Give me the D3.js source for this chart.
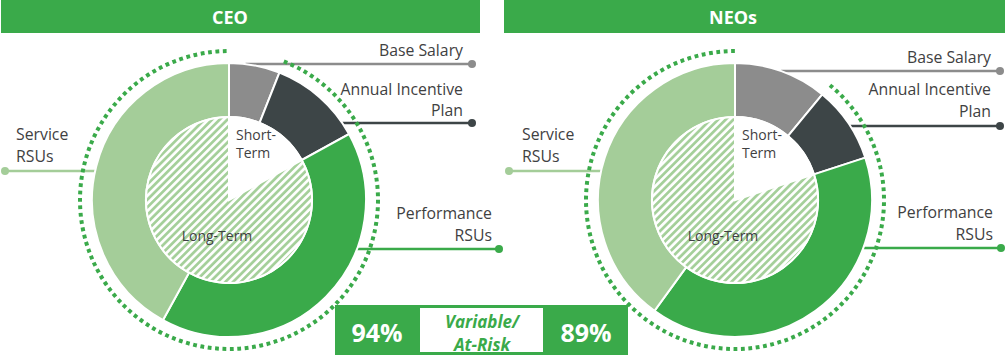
<!DOCTYPE html>
<html>
<head>
<meta charset="utf-8">
<script src="https://cdn.jsdelivr.net/npm/d3@7"></script>
<style>
  html, body { margin: 0; padding: 0; background: #fff; }
  svg { display: block; font-family: 'Open Sans', sans-serif; }
</style>
</head>
<body>
<svg id="chart"></svg>
<script>
const width = 1006
const height = 358

// data
const groups = ['CEO', 'NEOs']
const categories = ['Base Salary', 'Annual Incentive Plan', 'Performance RSUs', 'Service RSUs']
const ceoMix = [6, 11, 41, 42]
const neoMix = [11, 9, 40, 40]
const horizons = ['Short-Term', 'Long-Term']
const variablePct = [94, 89]

const green = '#3aaa4a'
const colors = ['#8c8c8c', '#3d4547', green, '#a4cd99']
const textColor = '#3f4142'

const rOuter = 137
const rInner = 83
const rDots = 149
const cy = 200

// layout for each panel (label wrapping and placement)
const panels = [
  {
    name: groups[0], mix: ceoMix, cx: 229, bar: [1, 480], titleX: 230,
    labels: [
      { lines: ['Base Salary'], x: 463, anchor: 'end', base: [56], lineY: 64, dotX: 472 },
      { lines: ['Annual Incentive', 'Plan'], x: 463, anchor: 'end', base: [95, 116], lineY: 123, dotX: 472 },
      { lines: ['Performance', 'RSUs'], x: 492, anchor: 'end', base: [219, 241], lineY: 249, dotX: 499 },
      { lines: ['Service', 'RSUs'], x: 16, anchor: 'start', base: [140, 162], lineY: 171, dotX: 5 }
    ]
  },
  {
    name: groups[1], mix: neoMix, cx: 735, bar: [504, 1005], titleX: 733,
    labels: [
      { lines: ['Base Salary'], x: 991, anchor: 'end', base: [63], lineY: 71, dotX: 1000 },
      { lines: ['Annual Incentive', 'Plan'], x: 991, anchor: 'end', base: [95, 117], lineY: 126, dotX: 1000 },
      { lines: ['Performance', 'RSUs'], x: 993, anchor: 'end', base: [218, 240], lineY: 248, dotX: 1001 },
      { lines: ['Service', 'RSUs'], x: 522, anchor: 'start', base: [140, 162], lineY: 171, dotX: 509 }
    ]
  }
]

const svg = d3.select('#chart')
    .attr('width', width)
    .attr('height', height)

// diagonal hatch for the long-term slice
svg.append('defs')
  .append('pattern')
    .attr('id', 'hatch')
    .attr('patternUnits', 'userSpaceOnUse')
    .attr('width', 5.4)
    .attr('height', 5.4)
    .attr('patternTransform', 'rotate(45)')
  .call(p => p.append('rect')
    .attr('width', 5.4).attr('height', 5.4).attr('fill', '#fff'))
  .call(p => p.append('line')
    .attr('x1', 1.4).attr('x2', 1.4).attr('y1', 0).attr('y2', 5.4)
    .attr('stroke', '#a4cf99').attr('stroke-width', 2.7))

const pie = d3.pie().sort(null).value(d => d)
const ringArc = d3.arc().innerRadius(rInner).outerRadius(rOuter)
const coreArc = d3.arc().innerRadius(0).outerRadius(rInner)

panels.forEach((p, pi) => {
  // header bar
  svg.append('rect')
    .attr('x', p.bar[0])
    .attr('y', 0)
    .attr('width', p.bar[1] - p.bar[0])
    .attr('height', 33)
    .attr('fill', green)
  svg.append('text')
    .attr('x', p.titleX)
    .attr('y', 24)
    .attr('text-anchor', 'middle')
    .attr('fill', '#fff')
    .style('font-size', '18px')
    .style('font-weight', 700)
    .text(p.name)

  const g = svg.append('g')

  // leader lines + labels
  p.labels.forEach((l, i) => {
    const dy = l.lineY - cy
    const half = Math.sqrt(rOuter * rOuter - dy * dy)
    const x0 = l.anchor === 'end' ? p.cx + half : p.cx - half
    g.append('line')
      .attr('x1', x0).attr('x2', l.dotX)
      .attr('y1', l.lineY).attr('y2', l.lineY)
      .attr('stroke', colors[i])
      .attr('stroke-width', 2.4)
    g.append('circle')
      .attr('cx', l.dotX).attr('cy', l.lineY)
      .attr('r', 4)
      .attr('fill', colors[i])
    l.lines.forEach((t, k) => {
      g.append('text')
        .attr('x', l.x)
        .attr('y', l.base[k])
        .attr('text-anchor', l.anchor)
        .attr('fill', textColor)
        .style('font-size', '15.8px')
        .text(t)
    })
  })

  const c = g.append('g').attr('transform', `translate(${p.cx}, ${cy})`)

  // outer ring: the four pay elements
  c.selectAll('path.ring')
    .data(pie(p.mix))
    .enter()
    .append('path')
      .attr('class', 'ring')
      .attr('d', ringArc)
      .attr('fill', (d, i) => colors[i])
      .attr('stroke', '#fff')
      .attr('stroke-width', 2)

  // inner pie: short-term vs long-term
  const shortTerm = p.mix[0] + p.mix[1]
  const core = [shortTerm, 100 - shortTerm]
  c.selectAll('path.core')
    .data(pie(core))
    .enter()
    .append('path')
      .attr('class', 'core')
      .attr('d', coreArc)
      .attr('fill', (d, i) => i === 0 ? '#fff' : 'url(#hatch)')
      .attr('stroke', '#fff')
      .attr('stroke-width', 2)

  // dotted arc around the variable / at-risk part (open arc only)
  const a0 = (p.mix[0] / 100) * 2 * Math.PI - Math.PI / 2
  const dots = d3.path()
  dots.moveTo(rDots * Math.cos(a0), rDots * Math.sin(a0))
  dots.arc(0, 0, rDots, a0, 1.5 * Math.PI)
  c.append('path')
    .attr('d', dots.toString())
    .attr('fill', 'none')
    .attr('stroke', green)
    .attr('stroke-width', 4)
    .attr('stroke-dasharray', '3.8 3.6')

  c.append('text')
    .attr('x', 7)
    .attr('y', -60)
    .attr('fill', textColor)
    .style('font-size', '14px')
    .text(horizons[0].split('-')[0] + '-')
  c.append('text')
    .attr('x', 7)
    .attr('y', -42)
    .attr('fill', textColor)
    .style('font-size', '14px')
    .text(horizons[0].split('-')[1])
  c.append('text')
    .attr('x', -12)
    .attr('y', 41)
    .attr('text-anchor', 'middle')
    .attr('fill', textColor)
    .style('font-size', '14px')
    .text(horizons[1])
})

// variable / at-risk box
const box = svg.append('g')
box.append('rect')
  .attr('x', 336.5).attr('y', 306.5)
  .attr('width', 290).attr('height', 47)
  .attr('fill', '#fff')
  .attr('stroke', green)
  .attr('stroke-width', 3)
box.append('rect')
  .attr('x', 335).attr('y', 305)
  .attr('width', 85).attr('height', 50)
  .attr('fill', green)
box.append('rect')
  .attr('x', 543).attr('y', 305)
  .attr('width', 85).attr('height', 50)
  .attr('fill', green)
box.append('text')
  .attr('x', 377).attr('y', 342)
  .attr('text-anchor', 'middle')
  .attr('fill', '#fff')
  .style('font-size', '25px').style('font-weight', 700)
  .text(variablePct[0] + '%')
box.append('text')
  .attr('x', 586).attr('y', 342)
  .attr('text-anchor', 'middle')
  .attr('fill', '#fff')
  .style('font-size', '25px').style('font-weight', 700)
  .text(variablePct[1] + '%')
box.append('text')
  .attr('x', 482).attr('y', 328)
  .attr('text-anchor', 'middle')
  .attr('fill', green)
  .style('font-size', '17px').style('font-weight', 700).style('font-style', 'italic')
  .text('Variable/')
box.append('text')
  .attr('x', 482).attr('y', 351)
  .attr('text-anchor', 'middle')
  .attr('fill', green)
  .style('font-size', '17px').style('font-weight', 700).style('font-style', 'italic')
  .text('At-Risk')
</script>
</body>
</html>
